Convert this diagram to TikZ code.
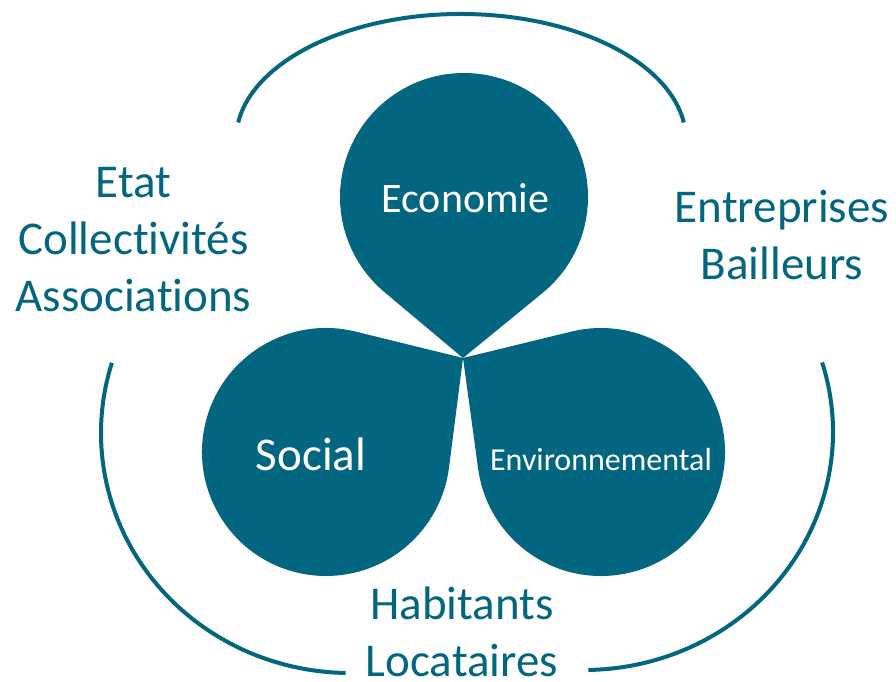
\documentclass[tikz,border=0pt]{standalone}
\usepackage{fontspec}
\setmainfont{Carlito}[Ligatures=NoCommon]
\usetikzlibrary{calc}

\definecolor{petrol}{RGB}{3,102,128}

\begin{document}
\begin{tikzpicture}[x=1pt, y=1pt,
		ring/.style={draw=petrol, line width=4pt},
		petal/.style={fill=petrol},
		inlabel/.style={text=white, anchor=base, inner sep=0pt},
		outlabel/.style={text=petrol, align=center, inner sep=0pt,
			font=\fontsize{47}{57}\selectfont}]
		
		\useasboundingbox (0,0) rectangle (896,681);
		
		% --- 1. THE THREE PETALS ---
		\coordinate (tip) at (463,323);
		\coordinate (eco) at (464,484);
		\coordinate (soc) at (326,229);
		\coordinate (env) at (601,229);
		
		% Each petal: tangent lines from the tip, then the long arc (r = 124)
		% Economie: phi = 269.6, acos(124/161) = 39.6 -> 309.3 / 230.0
		\fill[petal] (tip) -- ($(eco)+(309.3:124)$)
			arc[start angle=309.3, end angle=590, radius=124] -- cycle;
		% Social: phi = 34.5, acos(124/166.2) = 41.7 -> 76.2 / -7.3
		\fill[petal] (tip) -- ($(soc)+(76.2:124)$)
			arc[start angle=76.2, end angle=352.7, radius=124] -- cycle;
		% Environnemental: phi = 145.7, acos(124/167) = 42.1 -> 187.8 / 103.7
		\fill[petal] (tip) -- ($(env)+(187.8:124)$)
			arc[start angle=187.8, end angle=463.7, radius=124] -- cycle;
		
		% Labels inside the petals
		\node[inlabel, font=\fontsize{42}{50}\selectfont] (ecolabel) at (465.5,468) {Economie};
		\node[inlabel, font=\fontsize{47}{56}\selectfont] (soclabel) at (311,211) {Social};
		\node[inlabel, font=\fontsize{32}{38}\selectfont] (envlabel) at (601,211) {Environnemental};
		
		
		% --- 2. THE OUTER RING (three open arcs) ---
		\coordinate (topc) at (461,541);
		\coordinate (leftc) at (350,248);
		\coordinate (rightc) at (584,249);
		
		\draw[ring] ($(topc)+(172:225 and 126)$)
			arc[start angle=172, end angle=8, x radius=225, y radius=126];
		\draw[ring] ($(leftc)+(163:249 and 240)$)
			arc[start angle=163, end angle=269, x radius=249, y radius=240];
		\draw[ring] ($(rightc)+(17:249 and 238)$)
			arc[start angle=17, end angle=-89, x radius=249, y radius=238];
		
		
		% --- 3. THE ACTORS ---
		\node[outlabel] (public) at (133.5,441.5) {Etat\\Collectivités\\Associations};
		\node[outlabel] (private) at (782,445.5) {Entreprises\\Bailleurs};
		\node[outlabel] (residents) at (462,49) {Habitants\\Locataires};
		
	\end{tikzpicture}
\end{document}
